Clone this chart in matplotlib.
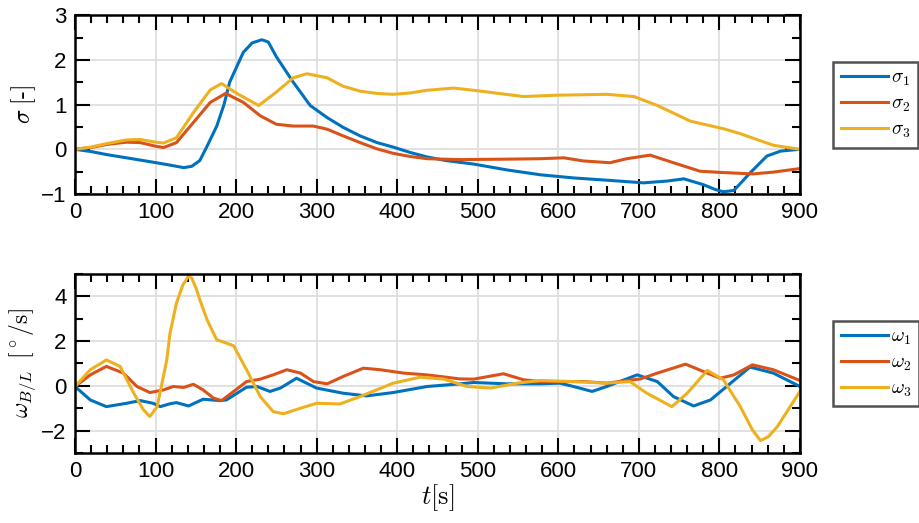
import matplotlib
matplotlib.use("Agg")
import matplotlib.pyplot as plt
from matplotlib.ticker import MultipleLocator

# sigma (MRP) series
t_s1 = [0, 20, 40, 64, 101, 120, 135, 145, 155, 164, 176, 185, 192, 209, 220, 232,
        240, 250, 271, 292, 313, 333, 354, 375, 395, 416, 437, 460, 495, 536, 578,
        619, 660, 706, 735, 756, 780, 795, 805, 818, 838, 859, 876, 900]
s1 = [0, -0.05, -0.12, -0.19, -0.30, -0.36, -0.41, -0.38, -0.25, 0.07, 0.52, 1.0,
      1.5, 2.17, 2.38, 2.45, 2.40, 2.07, 1.5, 0.98, 0.71, 0.49, 0.30, 0.15, 0.05,
      -0.07, -0.17, -0.25, -0.33, -0.46, -0.57, -0.64, -0.69, -0.75, -0.71, -0.66,
      -0.79, -0.90, -0.95, -0.92, -0.53, -0.15, -0.04, 0]
t_s2 = [0, 20, 40, 64, 81, 100, 110, 126, 147, 168, 187, 209, 230, 250, 271, 296,
        313, 333, 354, 375, 395, 416, 437, 478, 536, 578, 607, 631, 664, 685, 714,
        743, 776, 805, 842, 867, 900]
s2 = [0, 0.04, 0.11, 0.16, 0.15, 0.07, 0.04, 0.15, 0.60, 1.05, 1.25, 1.05, 0.75,
      0.56, 0.52, 0.52, 0.45, 0.30, 0.15, 0.01, -0.09, -0.16, -0.21, -0.23, -0.22,
      -0.21, -0.19, -0.26, -0.30, -0.21, -0.13, -0.30, -0.49, -0.52, -0.55, -0.51,
      -0.43]
t_s3 = [0, 20, 40, 64, 81, 100, 110, 126, 147, 168, 182, 201, 228, 250, 271, 288,
        313, 333, 354, 375, 395, 416, 437, 470, 495, 557, 598, 660, 694, 723, 764,
        805, 826, 867, 900]
s3 = [0, 0.05, 0.13, 0.21, 0.22, 0.16, 0.14, 0.26, 0.82, 1.33, 1.47, 1.25, 0.98,
      1.28, 1.60, 1.69, 1.60, 1.41, 1.30, 1.25, 1.23, 1.26, 1.32, 1.37, 1.32, 1.18,
      1.21, 1.23, 1.18, 0.98, 0.63, 0.46, 0.35, 0.09, 0]

# omega_B/L series [deg/s]
t_w1 = [0, 19, 39, 64, 81, 97, 106, 118, 126, 141, 159, 180, 188, 213, 226, 242,
        255, 275, 300, 333, 362, 395, 437, 478, 495, 536, 578, 602, 619, 642, 660,
        698, 723, 743, 768, 789, 814, 838, 867, 900]
w1 = [-0.03, -0.63, -0.93, -0.78, -0.66, -0.78, -0.93, -0.80, -0.75, -0.90, -0.60,
      -0.66, -0.63, -0.06, -0.03, -0.25, -0.10, 0.34, -0.10, -0.33, -0.45, -0.30,
      -0.03, 0.09, 0.15, 0.09, 0.09, 0.12, -0.03, -0.25, -0.03, 0.49, 0.19, -0.48,
      -0.90, -0.63, 0.12, 0.84, 0.57, -0.03]
t_w2 = [0, 19, 39, 60, 77, 93, 110, 122, 135, 147, 159, 172, 182, 197, 213, 230,
        246, 263, 280, 296, 313, 333, 358, 379, 408, 437, 478, 495, 532, 557, 578,
        632, 660, 702, 723, 758, 785, 801, 818, 841, 867, 900]
w2 = [-0.03, 0.49, 0.87, 0.57, -0.03, -0.30, -0.18, -0.03, -0.07, 0.07, -0.18,
      -0.55, -0.66, -0.25, 0.19, 0.30, 0.49, 0.72, 0.57, 0.19, 0.09, 0.42, 0.79,
      0.72, 0.57, 0.49, 0.31, 0.30, 0.54, 0.27, 0.19, 0.19, 0.12, 0.31, 0.57, 0.97,
      0.57, 0.34, 0.49, 0.94, 0.72, 0.24]
t_w3 = [0, 19, 39, 56, 73, 85, 93, 102, 114, 118, 126, 134, 141, 145, 151, 155,
        164, 170, 176, 188, 197, 213, 230, 246, 259, 280, 300, 329, 354, 395, 429,
        458, 487, 516, 549, 578, 619, 660, 689, 710, 741, 760, 785, 805, 826, 841,
        851, 861, 872, 900]
w3 = [-0.03, 0.72, 1.16, 0.87, -0.33, -1.07, -1.37, -0.93, 1.16, 2.36, 3.70, 4.52,
      4.90, 4.82, 4.30, 3.85, 2.96, 2.50, 2.06, 1.91, 1.79, 0.72, -0.48, -1.15,
      -1.25, -1.00, -0.78, -0.81, -0.48, 0.12, 0.39, 0.30, -0.03, -0.10, 0.12, 0.24,
      0.19, 0.12, 0.19, -0.33, -0.93, -0.33, 0.69, 0.27, -0.93, -1.97, -2.45, -2.27,
      -1.82, -0.25]

colores = ['#0072BD', '#D95319', '#EDB120']

plt.rcParams['font.family'] = ['Liberation Sans', 'DejaVu Sans']
plt.rcParams['mathtext.fontset'] = 'cm'


def estilo_eixo(ax, ymin, ymax, ymaj, ymin_step):
    ax.set_xlim(0, 900)
    ax.set_ylim(ymin, ymax)
    ax.xaxis.set_major_locator(MultipleLocator(100))
    ax.xaxis.set_minor_locator(MultipleLocator(20))
    ax.yaxis.set_major_locator(MultipleLocator(ymaj))
    ax.yaxis.set_minor_locator(MultipleLocator(ymin_step))
    ax.grid(True, which='major', color='#dedede', linewidth=1.3)
    ax.set_axisbelow(True)
    ax.tick_params(which='both', direction='in', top=True, right=True,
                   width=1.5, labelsize=16, colors='black')
    ax.tick_params(which='major', length=11, pad=6)
    ax.tick_params(which='minor', length=5.5)
    for sp in ax.spines.values():
        sp.set_linewidth(1.8)


fig = plt.figure(figsize=(9.2, 5.23), dpi=100)
ax1 = fig.add_axes([0.0815, 0.629, 0.788, 0.342])
ax2 = fig.add_axes([0.0815, 0.134, 0.788, 0.342])

ax1.plot(t_s1, s1, color=colores[0], lw=2.2, label=r'$\sigma_1$')
ax1.plot(t_s2, s2, color=colores[1], lw=2.2, label=r'$\sigma_2$')
ax1.plot(t_s3, s3, color=colores[2], lw=2.2, label=r'$\sigma_3$')
estilo_eixo(ax1, -1, 3, 1, 0.5)
ax1.set_ylabel(r'$\sigma\;[\text{-}]$', fontsize=17, labelpad=2)

ax2.plot(t_w1, w1, color=colores[0], lw=2.2, label=r'$\omega_1$')
ax2.plot(t_w2, w2, color=colores[1], lw=2.2, label=r'$\omega_2$')
ax2.plot(t_w3, w3, color=colores[2], lw=2.2, label=r'$\omega_3$')
estilo_eixo(ax2, -3, 5, 2, 1)
ax2.set_ylabel(r'$\omega_{B/L}\;\;[^\circ/\mathrm{s}]$', fontsize=17, labelpad=2)
ax2.set_xlabel(r'$t[\mathrm{s}]$', fontsize=19, labelpad=0)

for ax in (ax1, ax2):
    leg = ax.legend(loc='center left', bbox_to_anchor=(1.046, 0.5), fontsize=14,
                    frameon=True, fancybox=False, edgecolor='#262626',
                    handlelength=2.4, handletextpad=0.15, borderpad=0.4,
                    labelspacing=0.35, borderaxespad=0)
    leg.get_frame().set_linewidth(1.8)

fig.savefig('out.png', dpi=100)
